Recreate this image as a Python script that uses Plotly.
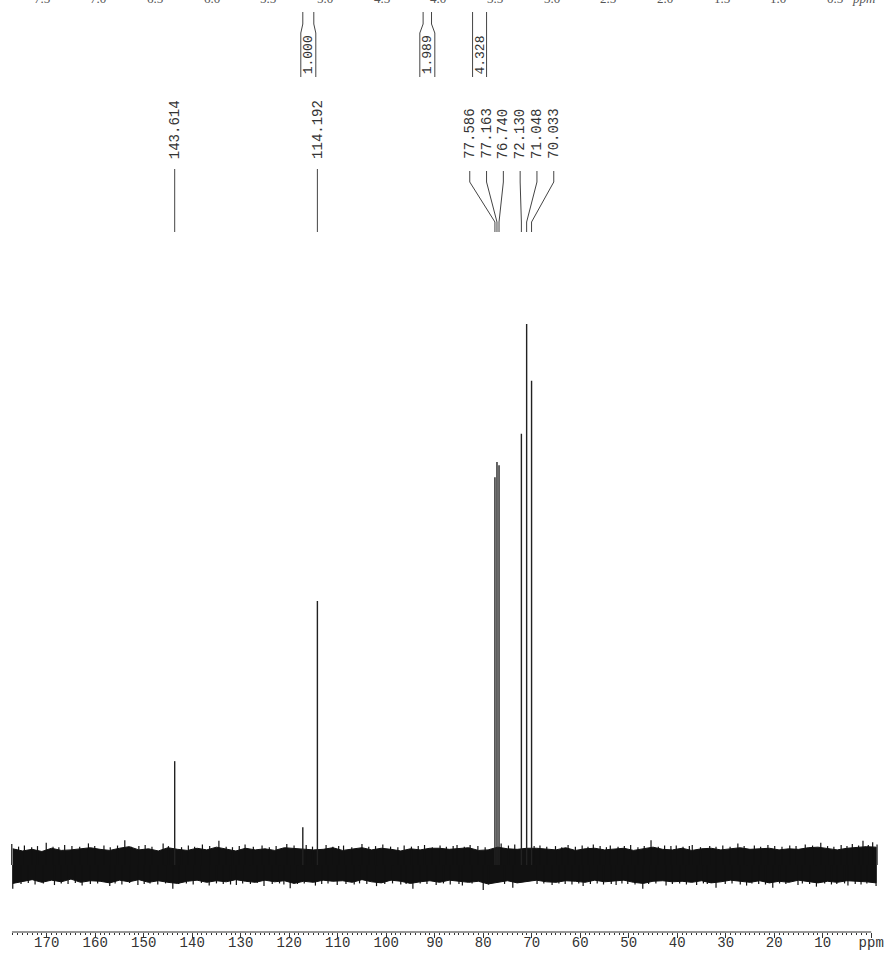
import plotly.graph_objects as go

# ---------------- data ----------------
# 13C peaks: chemical shift (ppm) and relative height (tallest = 100)
peak_ppm = [143.614, 117.2, 114.192, 77.586, 77.163, 76.740, 72.130, 71.048, 70.033]
peak_height = [19.2, 7.0, 48.8, 71.7, 74.5, 73.9, 79.7, 100.0, 89.5]

# labelled peaks
single_ppm = [143.614, 114.192]
single_text = ["143.614", "114.192"]
cluster_ppm = [77.586, 77.163, 76.740, 72.130, 71.048, 70.033]
cluster_text = ["77.586", "77.163", "76.740", "72.130", "71.048", "70.033"]

# baseline noise envelope (upper / lower edge of the dense noise band)
noise_ppm = [177, 175, 173, 171, 169, 167, 165, 163, 161, 159, 157, 155, 153, 151, 149,
             147, 145, 143, 141, 139, 137, 135, 133, 131, 129, 127, 125, 123, 121, 119,
             117, 115, 113, 111, 109, 107, 105, 103, 101, 99, 97, 95, 93, 91, 89,
             87, 85, 83, 81, 79, 77, 75, 73, 71, 69, 67, 65, 63, 61, 59,
             57, 55, 53, 51, 49, 47, 45, 43, 41, 39, 37, 35, 33, 31, 29,
             27, 25, 23, 21, 19, 17, 15, 13, 11, 9, 7, 5, 3, 1, -1]
noise_upper = [3.0, 2.6, 2.9, 2.5, 3.1, 2.7, 2.8, 3.0, 3.2, 2.9, 2.7, 3.1, 3.4, 2.8, 3.0,
               2.6, 3.2, 2.9, 2.7, 3.1, 2.8, 3.3, 2.9, 2.6, 3.1, 2.8, 3.0, 2.7, 3.2, 3.1,
               3.0, 2.8, 2.9, 3.2, 2.7, 3.0, 3.2, 2.8, 3.1, 2.9, 2.6, 3.0, 2.8, 3.1, 3.1,
               2.9, 3.0, 3.2, 2.7, 2.8, 3.3, 3.0, 2.9, 3.1, 3.1, 3.0, 2.8, 3.2, 2.7, 3.0,
               3.1, 2.8, 2.9, 3.1, 2.7, 3.0, 3.3, 2.9, 2.8, 3.1, 2.7, 3.0, 3.1, 2.8, 3.0,
               3.2, 2.9, 3.0, 3.1, 2.8, 3.0, 2.9, 3.2, 3.3, 3.0, 2.8, 3.1, 3.2, 3.4, 3.3]
noise_lower = [-3.4, -3.0, -2.7, -3.2, -2.8, -3.1, -2.6, -3.2, -2.9, -3.0, -3.3, -2.8, -3.1, -2.7, -3.2,
               -2.9, -3.2, -3.4, -3.0, -2.8, -3.2, -2.9, -3.1, -2.7, -3.0, -3.2, -2.8, -3.1, -2.9, -3.4,
               -3.0, -3.2, -2.8, -3.0, -2.9, -3.2, -2.7, -3.1, -3.3, -2.8, -3.0, -3.4, -3.1, -2.9, -3.2,
               -2.8, -3.0, -3.2, -3.0, -3.5, -3.2, -2.9, -3.3, -3.0, -2.8, -3.1, -3.2, -2.9, -3.0, -3.2,
               -2.8, -3.1, -3.0, -2.8, -3.2, -3.4, -3.0, -2.9, -3.1, -3.0, -3.2, -2.9, -3.3, -3.1, -2.8,
               -3.0, -3.2, -2.9, -3.3, -3.0, -3.2, -2.8, -3.1, -3.3, -3.0, -3.2, -2.9, -3.0, -3.1, -3.3]

# noise spikes sticking out of the band (top side)
spike_up_ppm = [177.2, 175.8, 174.6, 173.1, 171.9, 170.1, 168.7, 167.5, 166.3, 164.8,
                163.2, 161.4, 160.1, 158.2, 156.9, 155.4, 153.9, 152.6, 151.0, 149.7,
                148.3, 146.0, 144.9, 142.2, 140.8, 139.5, 137.9, 136.4, 134.5, 133.0,
                131.7, 130.3, 129.1, 127.4, 125.6, 124.1, 122.7, 120.5, 119.0, 116.5,
                115.2, 112.4, 111.0, 109.8, 108.8, 107.1, 105.0, 103.6, 102.2, 100.7,
                99.1, 97.6, 96.3, 94.8, 93.4, 92.1, 90.5, 88.9, 87.6, 86.2,
                85.4, 83.9, 82.7, 81.1, 79.6, 76.3, 74.8, 73.5, 69.5, 68.3,
                66.9, 65.1, 63.8, 62.5, 61.0, 59.6, 58.4, 57.3, 55.9, 54.6,
                53.8, 52.2, 50.9, 49.6, 48.1, 46.8, 45.4, 43.9, 42.6, 41.3,
                40.2, 38.8, 37.5, 36.9, 35.2, 33.3, 32.0, 30.6, 29.1, 27.5,
                26.2, 24.1, 22.8, 21.3, 19.9, 18.4, 16.8, 15.5, 13.6, 12.1,
                10.4, 9.0, 7.7, 6.2, 5.0, 3.9, 2.6, 1.7, 0.6, -0.3,
                -1.2]
spike_up_val = [3.9, 3.4, 3.6, 3.3, 3.5, 4.1, 3.4, 3.3, 3.7, 3.5,
                3.4, 4.0, 3.5, 3.6, 3.3, 3.6, 4.6, 3.4, 3.5, 3.7,
                3.4, 4.0, 3.5, 3.3, 3.6, 3.4, 3.8, 3.5, 4.5, 3.4,
                3.3, 3.5, 3.8, 3.4, 3.6, 3.3, 3.5, 3.9, 3.6, 3.7,
                3.4, 3.7, 3.4, 3.5, 3.6, 3.3, 3.9, 3.4, 3.5, 3.8,
                3.4, 3.3, 3.6, 3.4, 3.5, 3.7, 3.3, 3.6, 3.4, 3.5,
                3.7, 3.4, 3.7, 3.5, 3.3, 4.0, 3.6, 3.8, 3.5, 3.6,
                3.4, 3.5, 3.3, 3.7, 3.4, 3.6, 3.4, 3.8, 3.5, 3.3,
                3.6, 3.4, 3.5, 3.7, 3.3, 3.5, 4.6, 3.4, 3.6, 3.5,
                3.6, 3.4, 3.5, 3.7, 3.3, 3.5, 3.4, 3.6, 3.4, 4.0,
                3.5, 3.6, 3.4, 3.7, 3.5, 3.4, 3.6, 3.5, 3.8, 3.6,
                4.1, 3.5, 3.4, 3.7, 3.5, 3.9, 3.6, 4.5, 3.7, 4.2,
                3.8]
# noise spikes (bottom side)
spike_dn_ppm = [177.0, 175.3, 173.8, 172.4, 170.7, 168.4, 167.0, 165.6, 164.1, 162.7,
                161.0, 159.5, 157.0, 155.9, 154.5, 152.9, 151.2, 149.9, 148.7, 147.1,
                145.5, 144.0, 142.8, 141.2, 139.8, 138.1, 136.5, 135.0, 133.6, 132.1,
                130.9, 129.6, 128.0, 126.6, 125.2, 123.5, 122.0, 121.1, 119.8, 118.3,
                116.9, 114.6, 113.3, 112.0, 110.1, 108.3, 106.6, 105.5, 104.0, 102.0,
                100.3, 98.7, 97.0, 95.9, 94.5, 93.0, 91.6, 89.7, 88.2, 86.8,
                85.0, 84.3, 82.3, 80.0, 78.9, 75.6, 73.9, 68.9, 67.5, 65.8,
                64.4, 63.1, 61.7, 60.3, 59.4, 57.9, 56.5, 55.2, 53.6, 52.6,
                51.4, 50.2, 48.7, 47.1, 45.9, 44.4, 42.3, 41.0, 39.5, 38.1,
                36.0, 34.6, 33.8, 32.0, 30.1, 28.7, 27.0, 25.7, 24.6, 23.2,
                21.8, 20.3, 18.9, 17.6, 15.1, 14.2, 12.7, 11.3, 9.6, 8.2,
                7.1, 5.5, 4.8, 3.3, 2.1, 0.9, -1.0]
spike_dn_val = [-4.4, -3.5, -3.3, -3.6, -3.4, -3.7, -3.4, -3.5, -3.3, -3.8,
                -3.5, -3.4, -3.9, -3.4, -3.6, -3.3, -3.7, -3.5, -3.4, -3.6,
                -3.4, -4.4, -3.5, -3.4, -3.6, -3.3, -3.8, -3.4, -3.5, -3.6,
                -3.7, -3.4, -3.5, -3.3, -3.9, -3.5, -3.4, -3.6, -4.3, -3.5,
                -3.4, -3.8, -3.5, -3.4, -3.7, -3.5, -3.6, -3.4, -3.5, -3.9,
                -3.5, -3.4, -3.6, -3.5, -4.4, -3.4, -3.5, -3.7, -3.4, -3.6,
                -3.5, -3.8, -3.4, -4.6, -3.6, -3.5, -4.2, -3.5, -3.4, -3.7,
                -3.4, -3.5, -3.6, -3.4, -3.9, -3.5, -3.4, -3.6, -3.5, -3.7,
                -3.4, -3.5, -3.6, -4.4, -3.5, -3.4, -3.8, -3.5, -3.4, -3.6,
                -3.7, -3.4, -3.5, -4.2, -3.5, -3.4, -3.6, -3.8, -3.4, -3.5,
                -3.6, -4.2, -3.4, -3.5, -3.7, -3.4, -3.5, -4.0, -3.4, -3.6,
                -3.5, -3.4, -3.8, -3.5, -3.6, -3.4, -3.9]

# bottom 13C axis
c13_tickvals = [170, 160, 150, 140, 130, 120, 110, 100, 90, 80, 70, 60, 50, 40, 30, 20, 10, 0]
c13_ticktext = ["170", "160", "150", "140", "130", "120", "110", "100", "90", "80", "70",
                "60", "50", "40", "30", "20", "10", "ppm"]

# leftover 1H axis labels and integrals at the very top
h1_tickvals = [7.5, 7.0, 6.5, 6.0, 5.5, 5.0, 4.5, 4.0, 3.5, 3.0, 2.5, 2.0, 1.5, 1.0, 0.5]
h1_ticktext = ["7.5", "7.0", "6.5", "6.0", "5.5", "5.0", "4.5", "4.0", "3.5", "3.0",
               "2.5", "2.0", "1.5", "1.0", "0.5"]
integral_ppm = [5.148, 4.098, 3.637]
integral_text = ["1.000", "1.989", "4.328"]

# ---------------- layout geometry ----------------
W, H = 893, 961
ML, MR, MT, MB = 10, 13, 0, 29
PW, PH = W - ML - MR, H - MT - MB
X13 = [177.57, -1.81]          # 13C axis range (reversed)
X1H = [7.78, 0.104]            # 1H axis range (reversed)
Y = [-12.38, 159.9]


def py(px):                    # pixel row -> paper y
    return 1 - px / PH


ppm13_per_px = (X13[0] - X13[1]) / PW
ppm1h_per_px = (X1H[0] - X1H[1]) / PW

fig = go.Figure()

# noise band
fig.add_trace(go.Scatter(
    x=noise_ppm + noise_ppm[::-1], y=noise_upper + noise_lower[::-1],
    fill="toself", fillcolor="#111", mode="lines",
    line=dict(color="#111", width=1), hoverinfo="skip", showlegend=False))

# noise spikes
sx, sy = [], []
for p, v in list(zip(spike_up_ppm, spike_up_val)) + list(zip(spike_dn_ppm, spike_dn_val)):
    sx += [p, p, None]
    sy += [0, v, None]
fig.add_trace(go.Scatter(x=sx, y=sy, mode="lines", line=dict(color="#111", width=1.2),
                         hoverinfo="skip", showlegend=False))

# peaks
px_, py_ = [], []
for p, h in zip(peak_ppm, peak_height):
    px_ += [p, p, None]
    py_ += [0, h, None]
fig.add_trace(go.Scatter(x=px_, y=py_, mode="lines",
                         line=dict(color="#222", width=1.4), showlegend=False))

# invisible trace to instantiate the 1H axis
fig.add_trace(go.Scatter(x=[h1_tickvals[0]], y=[0], xaxis="x2", mode="markers",
                         marker=dict(opacity=0), showlegend=False, hoverinfo="skip"))

shapes, annotations = [], []
lab_font = dict(family="Liberation Mono", size=14, color="#333")

# single labelled peaks
for p, t in zip(single_ppm, single_text):
    annotations.append(dict(x=p, y=py(161), xref="x", yref="paper", text=t,
                            textangle=-90, showarrow=False, xanchor="center",
                            yanchor="bottom", font=lab_font))
    shapes.append(dict(type="line", xref="x", yref="paper", x0=p, x1=p,
                       y0=py(169), y1=py(232), line=dict(color="#444", width=1)))

# cluster labels spread out evenly above the cluster
mean_c = sum(cluster_ppm) / len(cluster_ppm)
spacing = 16.8 * ppm13_per_px
n = len(cluster_ppm)
for i, (p, t) in enumerate(zip(cluster_ppm, cluster_text)):
    lx = mean_c + ((n - 1) / 2 - i) * spacing
    annotations.append(dict(x=lx, y=py(161), xref="x", yref="paper", text=t,
                            textangle=-90, showarrow=False, xanchor="center",
                            yanchor="bottom", font=lab_font))
    path = (f"M {lx},{py(171)} L {lx},{py(182)} L {p},{py(222)} L {p},{py(232)}")
    shapes.append(dict(type="path", xref="x", yref="paper", path=path,
                       line=dict(color="#444", width=1)))

# top 1H axis remnants (mostly cut off at the top edge)
for v, t in zip(h1_tickvals, h1_ticktext):
    annotations.append(dict(x=v, y=py(8), xref="x2", yref="paper", text=t,
                            showarrow=False, xanchor="center", yanchor="bottom",
                            font=dict(family="Liberation Serif", size=13, color="#555")))
annotations.append(dict(x=X1H[1] + 3 * ppm1h_per_px, y=py(8), xref="x2", yref="paper",
                        text="<i>ppm</i>", showarrow=False, xanchor="right",
                        yanchor="bottom",
                        font=dict(family="Liberation Serif", size=13, color="#555")))

# integral brackets
bracket = [(5.5, 7.5), (4.2, 7.5), (7.0, 7.0)]   # half widths (px) top / bottom
for c, t, (a, b) in zip(integral_ppm, integral_text, bracket):
    for s in (-1, 1):
        xa = c - s * a * ppm1h_per_px
        xb = c - s * b * ppm1h_per_px
        path = f"M {xa},{py(12)} L {xa},{py(24)} L {xb},{py(33)} L {xb},{py(77)}"
        shapes.append(dict(type="path", xref="x2", yref="paper", path=path,
                           line=dict(color="#444", width=1)))
    annotations.append(dict(x=c, y=py(55), xref="x2", yref="paper", text=t,
                            textangle=-90, showarrow=False, xanchor="center",
                            yanchor="middle",
                            font=dict(family="Liberation Mono", size=13, color="#333")))

# bottom axis line (ends at 0 ppm)
shapes.append(dict(type="line", xref="x", yref="paper", x0=X13[0] - 0.4, x1=0,
                   y0=0, y1=0, line=dict(color="#333", width=1)))

fig.update_layout(
    width=W, height=H, margin=dict(l=ML, r=MR, t=MT, b=MB),
    paper_bgcolor="white", plot_bgcolor="white", showlegend=False,
    shapes=shapes, annotations=annotations,
    xaxis=dict(range=X13, showgrid=False, zeroline=False, showline=False,
               tickmode="array", tickvals=c13_tickvals, ticktext=c13_ticktext,
               ticks="outside", ticklen=5, tickwidth=1, tickcolor="#333",
               ticklabelstandoff=-8,
               tickfont=dict(family="Liberation Mono", size=14, color="#333"),
               minor=dict(tickmode="array", tickvals=list(range(0, 178)),
                          ticks="outside", ticklen=2, tickwidth=1, tickcolor="#333")),
    xaxis2=dict(range=X1H, overlaying="x", visible=False),
    yaxis=dict(range=Y, visible=False, showgrid=False, zeroline=False),
)

fig.write_html("out.html", config={"displayModeBar": False},
               post_script="document.body.style.margin='0';")
